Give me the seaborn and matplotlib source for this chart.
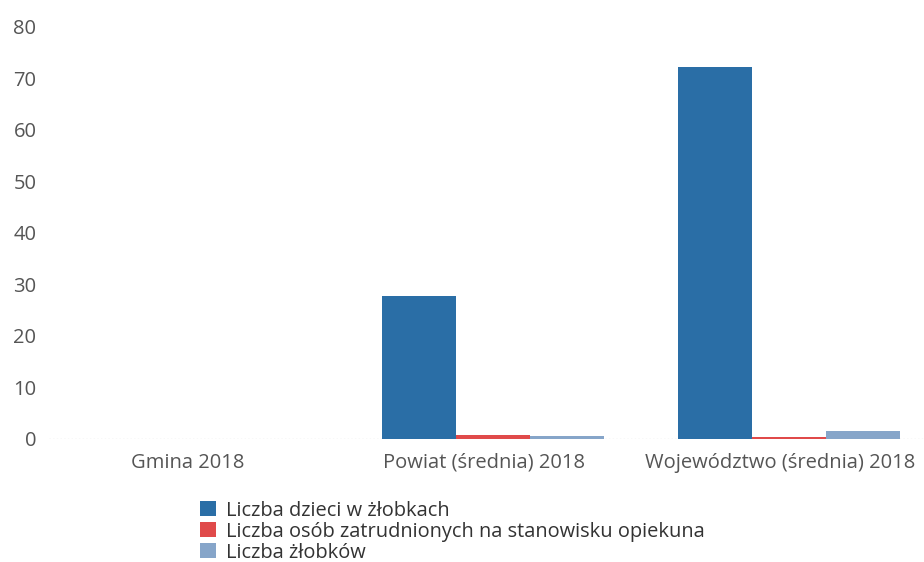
import pandas as pd
import matplotlib.pyplot as plt
import matplotlib.transforms as mtransforms
import seaborn as sns

# --- Data ---
categories = ['Gmina 2018', 'Powiat (średnia) 2018', 'Województwo (średnia) 2018']
series_names = ['Liczba dzieci w żłobkach',
                'Liczba osób zatrudnionych na stanowisku opiekuna',
                'Liczba żłobków']
dzieci = [0, 27.8, 72.2]
opiekunowie = [0, 0.7, 0.3]
zlobki = [0, 0.5, 1.5]
colors = ['#2a6ea6', '#e04a4a', '#86a5c9']

df = pd.DataFrame({
    'kategoria': categories * 3,
    'seria': [series_names[0]] * 3 + [series_names[1]] * 3 + [series_names[2]] * 3,
    'wartosc': dzieci + opiekunowie + zlobki,
})

sns.set_theme(style='white')
plt.rcParams['font.family'] = ['Open Sans', 'DejaVu Sans']

fig = plt.figure(figsize=(9.24, 5.62), dpi=100)
ax = fig.add_axes([0.053, 0.219, 0.947, 0.733])

sns.barplot(data=df, x='kategoria', y='wartosc', hue='seria',
            palette=colors, width=0.75, saturation=1, linewidth=0,
            ax=ax, legend=True)

ax.set_ylim(0, 80)
ax.set_xlim(-0.5, 2.456)
ax.set_yticks(range(0, 81, 10))
ax.set_xlabel('')
ax.set_ylabel('')
ax.tick_params(axis='both', length=0, labelsize=14.5, labelcolor='#555555')
ax.tick_params(axis='x', pad=10)
ax.tick_params(axis='y', pad=9)
for s in ax.spines.values():
    s.set_visible(False)
ax.axhline(0, color='#dddddd', lw=1, ls=':', zorder=0)

# category labels sit a bit left of the bar groups in the original
shift = mtransforms.ScaledTranslation(-9 / 100, 0, fig.dpi_scale_trans)
for lbl in ax.get_xticklabels():
    lbl.set_transform(lbl.get_transform() + shift)

# --- Legend below the plot ---
handles, labels = ax.get_legend_handles_labels()
ax.get_legend().remove()
fig.legend(handles, labels, loc='upper left', bbox_to_anchor=(0.216, 0.109),
           frameon=False, fontsize=14.4, labelcolor='#333333',
           handlelength=0.8, handleheight=0.8, handletextpad=0.5,
           labelspacing=0.05, borderpad=0, borderaxespad=0)

fig.savefig('out.png', dpi=100)
